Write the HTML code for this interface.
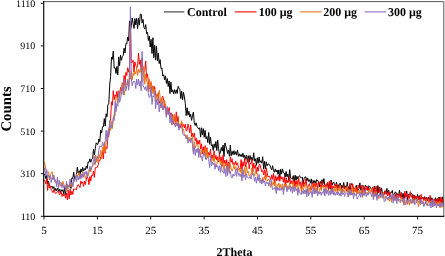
<!DOCTYPE html>
<html><head><meta charset="utf-8"><style>
html,body{margin:0;padding:0;background:#fff;}
svg{display:block;font-family:"Liberation Serif",serif;text-rendering:geometricPrecision;}
</style></head><body>
<svg width="445" height="256" viewBox="0 0 445 256">
<rect width="445" height="256" fill="#fff"/>
<filter id="nf" x="0" y="0" width="445" height="256" filterUnits="userSpaceOnUse"><feOffset dx="0" dy="0"/></filter>
<clipPath id="c"><rect x="44" y="2" width="400" height="214.3"/></clipPath>
<g clip-path="url(#c)">
<path d="M44.0 173.8 L44.9 174.8 L45.8 178.6 L46.7 175.3 L47.6 183.8 L48.5 181.1 L49.4 185.5 L50.3 186.8 L51.2 187.3 L52.1 186.2 L53.0 188.6 L53.9 186.7 L54.8 191.0 L55.7 188.4 L56.6 191.0 L57.5 188.2 L58.4 190.9 L59.3 189.3 L60.2 192.6 L61.1 189.6 L62.0 191.3 L62.9 189.6 L63.8 194.1 L64.7 187.1 L65.6 194.6 L66.5 183.4 L67.4 186.8 L68.3 185.5 L69.2 186.7 L70.1 183.6 L71.0 188.5 L71.9 177.8 L72.8 178.4 L73.7 172.2 L74.6 178.6 L75.5 177.2 L76.4 175.3 L77.3 167.2 L78.2 173.1 L79.1 170.7 L80.0 175.5 L80.9 168.9 L81.8 171.9 L82.7 167.4 L83.6 171.2 L84.5 168.6 L85.4 169.8 L86.3 165.9 L87.2 168.5 L88.1 161.9 L89.0 162.4 L89.9 158.8 L90.8 162.3 L91.7 159.2 L92.6 158.5 L93.5 149.3 L94.4 155.0 L95.3 148.5 L96.2 142.8 L97.1 144.2 L98.0 144.2 L98.9 139.1 L99.8 141.6 L100.7 130.1 L101.6 133.1 L102.5 126.7 L103.4 126.7 L104.3 118.6 L105.2 126.1 L106.1 113.8 L107.0 116.8 L107.9 104.8 L108.8 103.9 L109.7 85.2 L110.6 76.7 L111.5 57.1 L112.4 59.3 L113.3 51.1 L114.2 68.0 L115.1 67.6 L116.0 73.5 L116.9 66.5 L117.8 74.9 L118.7 56.9 L119.6 65.6 L120.5 55.0 L121.4 60.3 L122.3 56.6 L123.2 55.5 L124.1 48.1 L125.0 53.0 L125.9 43.5 L126.8 43.8 L127.7 37.1 L128.6 41.1 L129.5 20.9 L130.4 30.9 L131.3 25.9 L132.2 18.0 L133.1 23.4 L134.0 28.4 L134.9 18.6 L135.8 24.9 L136.7 18.3 L137.6 28.7 L138.5 18.3 L139.4 25.2 L140.3 14.2 L141.2 14.2 L142.1 23.1 L143.0 19.3 L143.9 27.2 L144.8 29.2 L145.7 24.6 L146.6 33.6 L147.5 32.3 L148.4 40.5 L149.3 36.0 L150.2 47.0 L151.1 39.4 L152.0 53.5 L152.9 37.7 L153.8 57.6 L154.7 45.2 L155.6 60.1 L156.5 46.1 L157.4 60.7 L158.3 53.0 L159.2 63.6 L160.1 59.6 L161.0 68.5 L161.9 68.0 L162.8 76.0 L163.7 74.7 L164.6 79.9 L165.5 75.8 L166.4 83.5 L167.3 78.6 L168.2 86.5 L169.1 80.9 L170.0 93.6 L170.9 82.2 L171.8 92.0 L172.7 89.8 L173.6 94.1 L174.5 89.7 L175.4 93.4 L176.3 89.8 L177.2 93.5 L178.1 86.4 L179.0 88.1 L179.9 89.6 L180.8 98.6 L181.7 91.1 L182.6 99.9 L183.5 92.4 L184.4 96.9 L185.3 103.5 L186.2 115.6 L187.1 107.8 L188.0 115.2 L188.9 111.3 L189.8 117.1 L190.7 114.4 L191.6 120.4 L192.5 115.7 L193.4 112.1 L194.3 122.8 L195.2 125.4 L196.1 122.8 L197.0 126.6 L197.9 127.9 L198.8 129.1 L199.7 127.7 L200.6 137.2 L201.5 127.8 L202.4 134.8 L203.3 128.6 L204.2 137.3 L205.1 130.3 L206.0 138.8 L206.9 136.6 L207.8 142.6 L208.7 132.5 L209.6 144.3 L210.5 137.1 L211.4 145.7 L212.3 144.7 L213.2 150.5 L214.1 143.9 L215.0 147.6 L215.9 141.5 L216.8 150.5 L217.7 140.2 L218.6 148.8 L219.5 154.2 L220.4 152.6 L221.3 147.5 L222.2 151.1 L223.1 145.1 L224.0 156.5 L224.9 142.9 L225.8 146.1 L226.7 149.1 L227.6 153.4 L228.5 150.0 L229.4 156.3 L230.3 145.0 L231.2 155.8 L232.1 151.3 L233.0 154.7 L233.9 150.7 L234.8 154.6 L235.7 151.6 L236.6 155.2 L237.5 149.9 L238.4 156.3 L239.3 153.8 L240.2 156.4 L241.1 154.4 L242.0 156.9 L242.9 153.2 L243.8 157.5 L244.7 155.4 L245.6 159.3 L246.5 155.1 L247.4 162.0 L248.3 155.7 L249.2 162.1 L250.1 155.5 L251.0 159.8 L251.9 157.3 L252.8 160.5 L253.7 152.8 L254.6 161.2 L255.5 158.8 L256.4 165.3 L257.3 157.7 L258.2 163.3 L259.1 157.1 L260.0 162.5 L260.9 160.7 L261.8 163.2 L262.7 156.7 L263.6 169.2 L264.5 161.1 L265.4 169.0 L266.3 161.8 L267.2 165.8 L268.1 163.9 L269.0 164.4 L269.9 165.2 L270.8 167.9 L271.7 170.0 L272.6 165.7 L273.5 170.3 L274.4 172.3 L275.3 168.9 L276.2 172.0 L277.1 170.0 L278.0 174.4 L278.9 169.9 L279.8 178.3 L280.7 169.3 L281.6 174.1 L282.5 168.9 L283.4 172.7 L284.3 173.0 L285.2 177.2 L286.1 171.5 L287.0 176.8 L287.9 173.9 L288.8 181.1 L289.7 169.6 L290.6 178.0 L291.5 178.4 L292.4 179.1 L293.3 175.6 L294.2 182.6 L295.1 175.2 L296.0 180.2 L296.9 176.3 L297.8 179.0 L298.7 176.7 L299.6 175.6 L300.5 177.4 L301.4 178.0 L302.3 177.1 L303.2 183.8 L304.1 178.7 L305.0 177.0 L305.9 176.8 L306.8 181.1 L307.7 177.9 L308.6 181.4 L309.5 179.7 L310.4 183.2 L311.3 178.9 L312.2 186.6 L313.1 180.3 L314.0 183.2 L314.9 180.6 L315.8 183.2 L316.7 179.6 L317.6 181.0 L318.5 181.2 L319.4 186.7 L320.3 181.5 L321.2 183.5 L322.1 179.7 L323.0 183.7 L323.9 178.6 L324.8 185.0 L325.7 185.7 L326.6 184.5 L327.5 182.7 L328.4 188.0 L329.3 183.0 L330.2 189.1 L331.1 180.0 L332.0 185.3 L332.9 182.6 L333.8 182.0 L334.7 186.1 L335.6 186.0 L336.5 182.1 L337.4 188.2 L338.3 184.7 L339.2 187.3 L340.1 183.1 L341.0 189.4 L341.9 185.3 L342.8 187.7 L343.7 182.5 L344.6 188.5 L345.5 185.8 L346.4 188.3 L347.3 182.2 L348.2 192.3 L349.1 186.2 L350.0 190.4 L350.9 185.5 L351.8 183.5 L352.7 185.9 L353.6 188.3 L354.5 189.3 L355.4 188.5 L356.3 185.3 L357.2 189.3 L358.1 190.3 L359.0 188.7 L359.9 182.9 L360.8 190.4 L361.7 186.8 L362.6 185.5 L363.5 187.1 L364.4 190.6 L365.3 185.2 L366.2 186.7 L367.1 187.0 L368.0 190.5 L368.9 185.7 L369.8 186.6 L370.7 188.1 L371.6 189.9 L372.5 192.7 L373.4 191.5 L374.3 186.1 L375.2 188.5 L376.1 187.9 L377.0 195.4 L377.9 185.6 L378.8 192.2 L379.7 187.1 L380.6 194.9 L381.5 187.9 L382.4 193.0 L383.3 194.6 L384.2 193.9 L385.1 190.7 L386.0 193.2 L386.9 188.4 L387.8 193.6 L388.7 190.2 L389.6 195.7 L390.5 192.5 L391.4 192.6 L392.3 190.5 L393.2 195.4 L394.1 196.0 L395.0 192.2 L395.9 192.1 L396.8 195.2 L397.7 193.7 L398.6 195.5 L399.5 190.2 L400.4 195.7 L401.3 194.2 L402.2 197.5 L403.1 193.3 L404.0 199.2 L404.9 194.1 L405.8 197.0 L406.7 191.0 L407.6 200.3 L408.5 194.6 L409.4 193.7 L410.3 195.3 L411.2 193.3 L412.1 193.9 L413.0 201.5 L413.9 194.8 L414.8 200.1 L415.7 196.2 L416.6 200.3 L417.5 194.5 L418.4 199.7 L419.3 195.6 L420.2 200.0 L421.1 198.5 L422.0 198.6 L422.9 197.2 L423.8 198.9 L424.7 196.6 L425.6 199.1 L426.5 197.5 L427.4 201.1 L428.3 197.0 L429.2 199.5 L430.1 197.7 L431.0 202.8 L431.9 197.7 L432.8 203.6 L433.7 200.0 L434.6 200.1 L435.5 197.7 L436.4 201.1 L437.3 198.9 L438.2 202.6 L439.1 197.0 L440.0 201.4 L440.9 198.4 L441.8 203.0 L442.7 196.8 L443.6 202.7" fill="none" stroke="#000000" stroke-width="1.0" stroke-linejoin="round"/>
<path d="M44.0 179.9 L44.9 180.6 L45.8 183.8 L46.7 178.4 L47.6 190.5 L48.5 182.8 L49.4 188.2 L50.3 185.8 L51.2 189.7 L52.1 191.0 L53.0 192.7 L53.9 189.6 L54.8 191.8 L55.7 193.6 L56.6 193.0 L57.5 191.3 L58.4 191.0 L59.3 194.6 L60.2 194.1 L61.1 191.3 L62.0 196.5 L62.9 193.9 L63.8 196.0 L64.7 194.3 L65.6 198.2 L66.5 193.3 L67.4 200.0 L68.3 190.2 L69.2 198.8 L70.1 189.2 L71.0 195.0 L71.9 191.2 L72.8 194.5 L73.7 188.8 L74.6 189.4 L75.5 188.8 L76.4 189.9 L77.3 185.9 L78.2 184.6 L79.1 186.1 L80.0 187.7 L80.9 180.9 L81.8 183.5 L82.7 182.0 L83.6 186.4 L84.5 181.2 L85.4 184.5 L86.3 179.0 L87.2 177.0 L88.1 178.5 L89.0 184.7 L89.9 176.5 L90.8 181.1 L91.7 175.2 L92.6 176.0 L93.5 171.0 L94.4 177.4 L95.3 167.7 L96.2 167.7 L97.1 167.6 L98.0 165.6 L98.9 160.5 L99.8 160.9 L100.7 157.0 L101.6 158.8 L102.5 150.7 L103.4 158.7 L104.3 144.0 L105.2 153.2 L106.1 147.1 L107.0 148.6 L107.9 137.3 L108.8 135.8 L109.7 123.0 L110.6 118.5 L111.5 101.8 L112.4 105.2 L113.3 90.6 L114.2 99.7 L115.1 94.8 L116.0 97.1 L116.9 91.2 L117.8 97.9 L118.7 90.8 L119.6 94.6 L120.5 87.5 L121.4 91.2 L122.3 82.8 L123.2 87.7 L124.1 75.5 L125.0 85.2 L125.9 72.3 L126.8 75.5 L127.7 67.7 L128.6 72.2 L129.5 67.7 L130.4 22.0 L131.3 63.0 L132.2 62.0 L133.1 60.3 L134.0 72.4 L134.9 61.9 L135.8 65.4 L136.7 68.0 L137.6 66.4 L138.5 53.0 L139.4 64.3 L140.3 60.0 L141.2 72.3 L142.1 58.0 L143.0 70.0 L143.9 71.8 L144.8 70.5 L145.7 61.0 L146.6 77.6 L147.5 73.9 L148.4 83.0 L149.3 89.0 L150.2 86.3 L151.1 82.6 L152.0 89.5 L152.9 85.8 L153.8 90.3 L154.7 86.6 L155.6 95.4 L156.5 96.1 L157.4 96.8 L158.3 92.8 L159.2 103.3 L160.1 101.0 L161.0 101.0 L161.9 97.7 L162.8 96.2 L163.7 100.1 L164.6 107.9 L165.5 104.6 L166.4 116.5 L167.3 108.0 L168.2 113.0 L169.1 107.6 L170.0 116.7 L170.9 112.7 L171.8 116.8 L172.7 114.4 L173.6 124.0 L174.5 114.9 L175.4 122.7 L176.3 111.9 L177.2 121.7 L178.1 116.4 L179.0 128.2 L179.9 124.8 L180.8 127.6 L181.7 122.4 L182.6 126.6 L183.5 124.6 L184.4 128.0 L185.3 124.2 L186.2 131.0 L187.1 130.3 L188.0 124.0 L188.9 127.2 L189.8 132.8 L190.7 124.9 L191.6 136.6 L192.5 133.3 L193.4 137.0 L194.3 133.0 L195.2 140.8 L196.1 138.0 L197.0 144.5 L197.9 140.3 L198.8 144.1 L199.7 140.2 L200.6 148.9 L201.5 143.8 L202.4 153.9 L203.3 146.8 L204.2 153.9 L205.1 145.6 L206.0 154.0 L206.9 147.7 L207.8 156.1 L208.7 152.4 L209.6 155.4 L210.5 149.2 L211.4 158.3 L212.3 155.1 L213.2 159.0 L214.1 150.8 L215.0 159.1 L215.9 155.3 L216.8 160.1 L217.7 156.8 L218.6 161.9 L219.5 153.7 L220.4 161.6 L221.3 156.9 L222.2 166.4 L223.1 155.1 L224.0 163.6 L224.9 160.0 L225.8 165.7 L226.7 159.6 L227.6 167.5 L228.5 161.9 L229.4 169.2 L230.3 156.8 L231.2 162.2 L232.1 158.8 L233.0 164.6 L233.9 162.5 L234.8 164.7 L235.7 161.1 L236.6 165.2 L237.5 162.8 L238.4 167.5 L239.3 168.3 L240.2 169.0 L241.1 159.6 L242.0 170.6 L242.9 161.8 L243.8 166.1 L244.7 158.1 L245.6 166.9 L246.5 162.7 L247.4 162.6 L248.3 158.6 L249.2 168.9 L250.1 163.1 L251.0 163.7 L251.9 159.3 L252.8 172.2 L253.7 163.0 L254.6 168.3 L255.5 164.9 L256.4 173.8 L257.3 167.1 L258.2 171.3 L259.1 164.8 L260.0 164.4 L260.9 168.6 L261.8 171.9 L262.7 170.5 L263.6 174.9 L264.5 169.8 L265.4 177.2 L266.3 167.8 L267.2 173.0 L268.1 177.0 L269.0 176.0 L269.9 177.6 L270.8 179.8 L271.7 174.9 L272.6 179.4 L273.5 173.4 L274.4 183.6 L275.3 175.6 L276.2 181.1 L277.1 176.7 L278.0 180.4 L278.9 175.2 L279.8 181.3 L280.7 176.1 L281.6 179.1 L282.5 177.2 L283.4 182.1 L284.3 176.5 L285.2 185.7 L286.1 177.9 L287.0 183.1 L287.9 180.2 L288.8 182.2 L289.7 176.6 L290.6 184.0 L291.5 180.7 L292.4 184.0 L293.3 179.8 L294.2 186.6 L295.1 180.7 L296.0 186.7 L296.9 180.4 L297.8 185.4 L298.7 177.6 L299.6 185.6 L300.5 182.0 L301.4 189.1 L302.3 180.5 L303.2 186.7 L304.1 182.4 L305.0 185.0 L305.9 178.7 L306.8 185.5 L307.7 187.9 L308.6 185.4 L309.5 183.7 L310.4 188.2 L311.3 190.2 L312.2 187.1 L313.1 182.6 L314.0 189.7 L314.9 183.3 L315.8 186.6 L316.7 182.7 L317.6 189.9 L318.5 181.4 L319.4 183.9 L320.3 184.6 L321.2 188.6 L322.1 181.3 L323.0 187.0 L323.9 185.0 L324.8 187.2 L325.7 184.7 L326.6 187.3 L327.5 182.5 L328.4 190.1 L329.3 181.2 L330.2 187.9 L331.1 181.3 L332.0 191.7 L332.9 185.9 L333.8 188.1 L334.7 184.1 L335.6 188.0 L336.5 184.0 L337.4 190.8 L338.3 185.6 L339.2 188.4 L340.1 185.6 L341.0 188.9 L341.9 193.0 L342.8 189.4 L343.7 185.7 L344.6 188.9 L345.5 187.2 L346.4 191.3 L347.3 187.4 L348.2 190.4 L349.1 187.5 L350.0 183.2 L350.9 187.6 L351.8 191.6 L352.7 183.9 L353.6 192.0 L354.5 187.8 L355.4 191.7 L356.3 187.5 L357.2 193.5 L358.1 185.2 L359.0 187.8 L359.9 188.1 L360.8 185.9 L361.7 185.5 L362.6 193.3 L363.5 185.7 L364.4 192.1 L365.3 188.4 L366.2 190.2 L367.1 186.2 L368.0 190.4 L368.9 187.9 L369.8 190.6 L370.7 191.3 L371.6 190.9 L372.5 186.9 L373.4 194.2 L374.3 188.0 L375.2 196.0 L376.1 186.0 L377.0 192.2 L377.9 190.7 L378.8 193.1 L379.7 187.4 L380.6 191.5 L381.5 193.4 L382.4 196.3 L383.3 192.2 L384.2 194.7 L385.1 190.8 L386.0 194.5 L386.9 192.7 L387.8 196.0 L388.7 191.5 L389.6 196.7 L390.5 192.9 L391.4 199.5 L392.3 195.8 L393.2 195.7 L394.1 194.0 L395.0 198.0 L395.9 193.7 L396.8 199.9 L397.7 194.4 L398.6 197.9 L399.5 193.9 L400.4 198.2 L401.3 192.2 L402.2 199.1 L403.1 197.9 L404.0 199.2 L404.9 191.1 L405.8 196.8 L406.7 193.5 L407.6 197.2 L408.5 195.4 L409.4 198.4 L410.3 191.6 L411.2 197.3 L412.1 195.8 L413.0 201.5 L413.9 195.3 L414.8 198.6 L415.7 195.8 L416.6 198.0 L417.5 196.6 L418.4 199.8 L419.3 196.8 L420.2 201.4 L421.1 194.3 L422.0 199.0 L422.9 197.7 L423.8 200.5 L424.7 197.7 L425.6 202.6 L426.5 197.0 L427.4 200.1 L428.3 200.4 L429.2 202.0 L430.1 195.3 L431.0 201.5 L431.9 199.5 L432.8 201.2 L433.7 199.5 L434.6 204.0 L435.5 199.6 L436.4 204.3 L437.3 198.2 L438.2 203.8 L439.1 198.6 L440.0 202.9 L440.9 196.8 L441.8 202.4 L442.7 199.1 L443.6 206.0" fill="none" stroke="#ff0000" stroke-width="1.0" stroke-linejoin="round"/>
<path d="M44.0 161.9 L44.9 163.9 L45.8 169.1 L46.7 171.4 L47.6 172.7 L48.5 171.8 L49.4 180.1 L50.3 174.4 L51.2 173.6 L52.1 171.6 L53.0 179.1 L53.9 177.8 L54.8 180.6 L55.7 182.4 L56.6 184.2 L57.5 180.3 L58.4 180.7 L59.3 181.9 L60.2 186.4 L61.1 183.4 L62.0 186.0 L62.9 181.3 L63.8 184.8 L64.7 185.2 L65.6 187.5 L66.5 184.9 L67.4 191.5 L68.3 184.8 L69.2 186.1 L70.1 181.7 L71.0 186.8 L71.9 182.6 L72.8 185.6 L73.7 180.4 L74.6 180.4 L75.5 178.4 L76.4 174.0 L77.3 175.7 L78.2 175.2 L79.1 172.4 L80.0 178.1 L80.9 174.3 L81.8 177.5 L82.7 172.1 L83.6 176.0 L84.5 173.5 L85.4 178.5 L86.3 175.8 L87.2 173.7 L88.1 175.8 L89.0 172.5 L89.9 167.7 L90.8 172.0 L91.7 167.0 L92.6 166.5 L93.5 162.9 L94.4 164.6 L95.3 155.0 L96.2 162.0 L97.1 156.0 L98.0 162.6 L98.9 154.3 L99.8 157.9 L100.7 150.4 L101.6 158.9 L102.5 147.1 L103.4 151.6 L104.3 142.3 L105.2 151.8 L106.1 140.3 L107.0 141.2 L107.9 134.8 L108.8 128.1 L109.7 127.0 L110.6 130.6 L111.5 121.4 L112.4 128.5 L113.3 118.9 L114.2 114.2 L115.1 115.7 L116.0 96.0 L116.9 97.8 L117.8 102.9 L118.7 91.8 L119.6 97.3 L120.5 90.8 L121.4 88.3 L122.3 86.8 L123.2 82.5 L124.1 95.3 L125.0 89.6 L125.9 83.6 L126.8 85.1 L127.7 79.1 L128.6 86.8 L129.5 70.1 L130.4 79.2 L131.3 70.4 L132.2 79.7 L133.1 73.2 L134.0 75.5 L134.9 71.5 L135.8 73.9 L136.7 67.4 L137.6 75.5 L138.5 69.5 L139.4 72.6 L140.3 68.4 L141.2 73.3 L142.1 81.8 L143.0 80.9 L143.9 66.1 L144.8 84.2 L145.7 74.2 L146.6 81.0 L147.5 82.8 L148.4 91.6 L149.3 78.7 L150.2 91.7 L151.1 81.3 L152.0 94.1 L152.9 86.6 L153.8 93.3 L154.7 89.8 L155.6 103.0 L156.5 93.8 L157.4 100.2 L158.3 96.2 L159.2 90.4 L160.1 96.6 L161.0 108.0 L161.9 97.8 L162.8 105.7 L163.7 109.6 L164.6 100.1 L165.5 105.5 L166.4 111.4 L167.3 109.3 L168.2 114.9 L169.1 110.7 L170.0 119.2 L170.9 113.9 L171.8 125.1 L172.7 116.5 L173.6 121.2 L174.5 114.3 L175.4 126.3 L176.3 118.8 L177.2 125.8 L178.1 121.6 L179.0 125.3 L179.9 123.6 L180.8 124.7 L181.7 120.7 L182.6 130.7 L183.5 128.9 L184.4 135.0 L185.3 135.2 L186.2 138.1 L187.1 134.8 L188.0 141.0 L188.9 137.2 L189.8 141.2 L190.7 137.8 L191.6 139.5 L192.5 136.4 L193.4 151.3 L194.3 141.7 L195.2 148.0 L196.1 145.8 L197.0 144.6 L197.9 144.5 L198.8 153.6 L199.7 149.2 L200.6 157.3 L201.5 150.8 L202.4 151.6 L203.3 150.4 L204.2 156.2 L205.1 148.1 L206.0 159.3 L206.9 149.5 L207.8 158.0 L208.7 156.1 L209.6 157.0 L210.5 156.0 L211.4 161.4 L212.3 158.4 L213.2 161.4 L214.1 155.0 L215.0 163.7 L215.9 165.5 L216.8 164.5 L217.7 159.1 L218.6 160.4 L219.5 159.1 L220.4 164.7 L221.3 160.3 L222.2 165.4 L223.1 162.4 L224.0 170.7 L224.9 164.2 L225.8 164.5 L226.7 164.8 L227.6 171.7 L228.5 163.7 L229.4 172.7 L230.3 164.6 L231.2 168.2 L232.1 171.3 L233.0 168.7 L233.9 165.1 L234.8 169.4 L235.7 166.5 L236.6 169.7 L237.5 167.9 L238.4 170.2 L239.3 168.4 L240.2 172.5 L241.1 168.9 L242.0 176.3 L242.9 171.5 L243.8 174.8 L244.7 167.3 L245.6 175.6 L246.5 165.7 L247.4 173.0 L248.3 171.3 L249.2 176.1 L250.1 174.8 L251.0 174.9 L251.9 167.8 L252.8 175.0 L253.7 173.4 L254.6 175.7 L255.5 171.1 L256.4 173.5 L257.3 173.4 L258.2 179.9 L259.1 178.7 L260.0 177.9 L260.9 179.2 L261.8 183.3 L262.7 177.2 L263.6 181.7 L264.5 176.4 L265.4 180.2 L266.3 174.0 L267.2 181.0 L268.1 179.5 L269.0 179.3 L269.9 182.3 L270.8 187.4 L271.7 180.7 L272.6 185.2 L273.5 182.5 L274.4 185.8 L275.3 180.9 L276.2 190.2 L277.1 184.4 L278.0 186.5 L278.9 183.0 L279.8 188.2 L280.7 184.4 L281.6 189.0 L282.5 183.9 L283.4 189.8 L284.3 184.1 L285.2 187.2 L286.1 183.8 L287.0 188.1 L287.9 185.5 L288.8 188.5 L289.7 182.6 L290.6 187.4 L291.5 187.6 L292.4 188.8 L293.3 181.5 L294.2 187.8 L295.1 186.2 L296.0 186.4 L296.9 183.8 L297.8 192.9 L298.7 186.7 L299.6 184.4 L300.5 185.7 L301.4 192.5 L302.3 186.7 L303.2 189.9 L304.1 187.5 L305.0 184.0 L305.9 186.9 L306.8 193.8 L307.7 186.1 L308.6 193.9 L309.5 187.9 L310.4 191.7 L311.3 188.0 L312.2 183.7 L313.1 187.3 L314.0 189.8 L314.9 185.7 L315.8 192.9 L316.7 188.0 L317.6 191.0 L318.5 194.1 L319.4 191.2 L320.3 186.8 L321.2 190.6 L322.1 186.6 L323.0 185.0 L323.9 188.6 L324.8 192.7 L325.7 185.8 L326.6 190.4 L327.5 192.2 L328.4 190.5 L329.3 191.3 L330.2 191.1 L331.1 189.0 L332.0 191.2 L332.9 189.0 L333.8 193.7 L334.7 185.6 L335.6 191.5 L336.5 187.0 L337.4 193.0 L338.3 188.4 L339.2 191.2 L340.1 185.3 L341.0 193.1 L341.9 188.7 L342.8 192.8 L343.7 189.7 L344.6 192.7 L345.5 187.7 L346.4 188.7 L347.3 185.8 L348.2 193.3 L349.1 189.3 L350.0 195.4 L350.9 189.4 L351.8 194.6 L352.7 187.0 L353.6 194.5 L354.5 190.7 L355.4 187.5 L356.3 192.5 L357.2 192.6 L358.1 191.0 L359.0 194.3 L359.9 189.8 L360.8 193.9 L361.7 190.6 L362.6 197.4 L363.5 191.5 L364.4 195.1 L365.3 190.6 L366.2 193.9 L367.1 192.1 L368.0 193.9 L368.9 189.9 L369.8 191.5 L370.7 192.7 L371.6 188.7 L372.5 191.5 L373.4 198.3 L374.3 192.5 L375.2 196.5 L376.1 191.5 L377.0 193.5 L377.9 194.5 L378.8 198.8 L379.7 194.0 L380.6 196.9 L381.5 194.3 L382.4 198.3 L383.3 192.2 L384.2 198.1 L385.1 198.1 L386.0 196.1 L386.9 198.5 L387.8 200.2 L388.7 198.9 L389.6 201.2 L390.5 197.0 L391.4 202.2 L392.3 196.7 L393.2 199.8 L394.1 194.5 L395.0 200.1 L395.9 197.5 L396.8 200.5 L397.7 198.4 L398.6 201.2 L399.5 201.1 L400.4 202.7 L401.3 197.0 L402.2 201.4 L403.1 202.0 L404.0 204.3 L404.9 200.3 L405.8 204.8 L406.7 200.1 L407.6 203.2 L408.5 197.9 L409.4 205.2 L410.3 199.3 L411.2 203.8 L412.1 199.0 L413.0 203.4 L413.9 200.1 L414.8 200.2 L415.7 198.5 L416.6 203.0 L417.5 197.9 L418.4 206.9 L419.3 200.7 L420.2 204.9 L421.1 203.4 L422.0 203.7 L422.9 200.8 L423.8 204.1 L424.7 204.1 L425.6 203.5 L426.5 200.3 L427.4 206.0 L428.3 202.2 L429.2 202.2 L430.1 202.3 L431.0 200.5 L431.9 200.5 L432.8 206.4 L433.7 202.5 L434.6 206.0 L435.5 201.8 L436.4 204.1 L437.3 202.2 L438.2 206.0 L439.1 201.5 L440.0 207.8 L440.9 202.2 L441.8 207.4 L442.7 206.7 L443.6 205.2" fill="none" stroke="#e8761a" stroke-width="1.0" stroke-linejoin="round"/>
<path d="M44.0 168.0 L44.9 169.1 L45.8 175.9 L46.7 169.5 L47.6 178.5 L48.5 175.2 L49.4 177.4 L50.3 175.5 L51.2 182.6 L52.1 177.3 L53.0 180.1 L53.9 174.9 L54.8 181.6 L55.7 179.7 L56.6 186.6 L57.5 177.1 L58.4 188.7 L59.3 180.5 L60.2 183.4 L61.1 182.4 L62.0 187.7 L62.9 184.4 L63.8 187.9 L64.7 186.1 L65.6 191.3 L66.5 181.4 L67.4 187.2 L68.3 188.4 L69.2 187.4 L70.1 179.0 L71.0 184.8 L71.9 182.2 L72.8 186.9 L73.7 178.3 L74.6 181.3 L75.5 176.2 L76.4 181.6 L77.3 174.8 L78.2 180.1 L79.1 176.3 L80.0 179.3 L80.9 173.8 L81.8 178.3 L82.7 173.4 L83.6 177.3 L84.5 172.0 L85.4 174.0 L86.3 171.1 L87.2 177.1 L88.1 171.7 L89.0 170.0 L89.9 166.3 L90.8 170.0 L91.7 166.7 L92.6 165.1 L93.5 159.8 L94.4 156.3 L95.3 164.4 L96.2 159.0 L97.1 157.0 L98.0 157.1 L98.9 149.4 L99.8 145.9 L100.7 146.7 L101.6 147.0 L102.5 142.4 L103.4 145.6 L104.3 144.4 L105.2 140.6 L106.1 130.3 L107.0 141.2 L107.9 130.7 L108.8 135.2 L109.7 120.5 L110.6 127.5 L111.5 128.1 L112.4 123.8 L113.3 117.8 L114.2 120.5 L115.1 101.4 L116.0 111.6 L116.9 103.3 L117.8 106.2 L118.7 91.4 L119.6 102.3 L120.5 99.3 L121.4 94.4 L122.3 87.4 L123.2 94.7 L124.1 78.9 L125.0 89.4 L125.9 90.9 L126.8 85.9 L127.7 80.5 L128.6 90.2 L129.5 82.2 L130.4 6.8 L131.3 77.6 L132.2 85.9 L133.1 81.7 L134.0 81.6 L134.9 81.5 L135.8 88.5 L136.7 79.0 L137.6 84.9 L138.5 79.0 L139.4 86.0 L140.3 80.9 L141.2 90.9 L142.1 51.5 L143.0 86.0 L143.9 86.8 L144.8 89.6 L145.7 86.6 L146.6 91.1 L147.5 84.9 L148.4 93.5 L149.3 97.6 L150.2 96.4 L151.1 87.0 L152.0 104.4 L152.9 95.8 L153.8 96.8 L154.7 90.5 L155.6 108.8 L156.5 99.7 L157.4 105.0 L158.3 97.9 L159.2 112.0 L160.1 103.7 L161.0 107.6 L161.9 101.7 L162.8 110.0 L163.7 106.3 L164.6 108.2 L165.5 107.1 L166.4 117.4 L167.3 106.5 L168.2 114.5 L169.1 110.9 L170.0 123.0 L170.9 113.5 L171.8 124.3 L172.7 119.4 L173.6 122.9 L174.5 123.8 L175.4 127.0 L176.3 122.8 L177.2 126.3 L178.1 123.2 L179.0 130.3 L179.9 124.7 L180.8 125.5 L181.7 127.0 L182.6 133.0 L183.5 134.7 L184.4 135.9 L185.3 134.9 L186.2 138.9 L187.1 136.9 L188.0 143.2 L188.9 140.6 L189.8 139.2 L190.7 142.9 L191.6 138.0 L192.5 145.0 L193.4 154.2 L194.3 146.4 L195.2 155.5 L196.1 148.8 L197.0 152.5 L197.9 148.3 L198.8 157.5 L199.7 149.5 L200.6 156.7 L201.5 156.5 L202.4 161.0 L203.3 153.4 L204.2 152.6 L205.1 155.1 L206.0 159.7 L206.9 158.1 L207.8 157.1 L208.7 159.4 L209.6 167.6 L210.5 156.1 L211.4 166.0 L212.3 161.8 L213.2 164.8 L214.1 163.1 L215.0 169.2 L215.9 164.3 L216.8 167.1 L217.7 165.5 L218.6 170.6 L219.5 165.8 L220.4 172.5 L221.3 164.7 L222.2 171.5 L223.1 171.2 L224.0 173.5 L224.9 168.4 L225.8 176.6 L226.7 166.0 L227.6 175.7 L228.5 166.0 L229.4 173.4 L230.3 171.2 L231.2 177.2 L232.1 177.9 L233.0 174.1 L233.9 176.2 L234.8 175.1 L235.7 169.3 L236.6 176.5 L237.5 168.3 L238.4 175.3 L239.3 173.5 L240.2 176.7 L241.1 173.8 L242.0 181.0 L242.9 169.5 L243.8 177.3 L244.7 174.8 L245.6 179.9 L246.5 173.9 L247.4 177.5 L248.3 177.8 L249.2 178.1 L250.1 176.4 L251.0 179.2 L251.9 173.5 L252.8 174.8 L253.7 174.8 L254.6 181.3 L255.5 177.2 L256.4 183.3 L257.3 177.3 L258.2 180.7 L259.1 174.4 L260.0 183.0 L260.9 179.7 L261.8 184.2 L262.7 179.0 L263.6 182.5 L264.5 180.9 L265.4 185.9 L266.3 181.6 L267.2 183.8 L268.1 182.3 L269.0 186.2 L269.9 181.3 L270.8 179.3 L271.7 184.4 L272.6 189.8 L273.5 188.5 L274.4 189.1 L275.3 186.9 L276.2 193.5 L277.1 186.9 L278.0 190.3 L278.9 187.6 L279.8 190.6 L280.7 188.6 L281.6 190.3 L282.5 186.8 L283.4 194.5 L284.3 188.3 L285.2 186.1 L286.1 185.7 L287.0 191.8 L287.9 187.8 L288.8 189.5 L289.7 186.0 L290.6 191.3 L291.5 186.8 L292.4 193.2 L293.3 186.3 L294.2 191.8 L295.1 186.7 L296.0 190.7 L296.9 188.7 L297.8 195.3 L298.7 188.7 L299.6 191.7 L300.5 194.2 L301.4 194.5 L302.3 190.6 L303.2 193.9 L304.1 189.8 L305.0 193.8 L305.9 189.7 L306.8 196.9 L307.7 187.9 L308.6 195.8 L309.5 192.9 L310.4 193.0 L311.3 191.4 L312.2 197.3 L313.1 187.5 L314.0 194.1 L314.9 189.6 L315.8 193.6 L316.7 189.9 L317.6 196.1 L318.5 191.6 L319.4 193.9 L320.3 191.8 L321.2 195.4 L322.1 191.9 L323.0 193.6 L323.9 188.6 L324.8 196.0 L325.7 188.6 L326.6 193.8 L327.5 190.2 L328.4 195.3 L329.3 191.2 L330.2 195.2 L331.1 189.8 L332.0 194.1 L332.9 189.0 L333.8 195.2 L334.7 192.6 L335.6 195.3 L336.5 191.9 L337.4 194.9 L338.3 191.8 L339.2 195.6 L340.1 192.9 L341.0 196.3 L341.9 189.8 L342.8 194.6 L343.7 193.0 L344.6 196.4 L345.5 192.7 L346.4 193.1 L347.3 193.2 L348.2 197.1 L349.1 190.5 L350.0 195.0 L350.9 190.8 L351.8 194.9 L352.7 193.0 L353.6 198.6 L354.5 193.2 L355.4 195.5 L356.3 193.4 L357.2 199.1 L358.1 197.1 L359.0 196.2 L359.9 192.7 L360.8 197.4 L361.7 191.3 L362.6 196.2 L363.5 193.5 L364.4 195.5 L365.3 189.5 L366.2 196.5 L367.1 193.7 L368.0 195.3 L368.9 192.6 L369.8 192.8 L370.7 193.1 L371.6 196.7 L372.5 191.2 L373.4 199.9 L374.3 194.3 L375.2 196.2 L376.1 193.0 L377.0 200.4 L377.9 194.9 L378.8 196.7 L379.7 193.4 L380.6 197.4 L381.5 191.5 L382.4 197.3 L383.3 194.4 L384.2 201.6 L385.1 201.0 L386.0 198.0 L386.9 196.6 L387.8 199.5 L388.7 196.9 L389.6 198.7 L390.5 194.2 L391.4 199.0 L392.3 194.7 L393.2 203.2 L394.1 194.0 L395.0 201.1 L395.9 198.3 L396.8 203.8 L397.7 195.2 L398.6 200.9 L399.5 199.0 L400.4 200.8 L401.3 201.0 L402.2 201.1 L403.1 198.5 L404.0 205.3 L404.9 198.0 L405.8 197.1 L406.7 199.7 L407.6 204.4 L408.5 199.7 L409.4 200.8 L410.3 199.3 L411.2 202.7 L412.1 201.3 L413.0 203.0 L413.9 198.3 L414.8 204.8 L415.7 204.0 L416.6 198.8 L417.5 200.3 L418.4 201.4 L419.3 202.2 L420.2 203.7 L421.1 199.3 L422.0 203.9 L422.9 201.8 L423.8 206.6 L424.7 204.2 L425.6 201.1 L426.5 205.1 L427.4 204.4 L428.3 205.1 L429.2 205.9 L430.1 202.6 L431.0 208.0 L431.9 200.1 L432.8 207.1 L433.7 199.8 L434.6 206.0 L435.5 203.1 L436.4 208.0 L437.3 203.8 L438.2 205.6 L439.1 203.9 L440.0 207.2 L440.9 202.5 L441.8 206.2 L442.7 202.9 L443.6 206.8" fill="none" stroke="#8a70c0" stroke-width="1.0" stroke-linejoin="round"/>
</g>
<path d="M43.7 1.6 H443.8 V216.3" fill="none" stroke="#595959" stroke-width="1"/>
<path d="M43.7 1.1 V216.3 H444.3" fill="none" stroke="#111" stroke-width="1.2"/>
<g stroke="#111" stroke-width="1"><line x1="44.0" y1="216.3" x2="44.0" y2="219.5"/><line x1="97.4" y1="216.3" x2="97.4" y2="219.5"/><line x1="150.7" y1="216.3" x2="150.7" y2="219.5"/><line x1="204.1" y1="216.3" x2="204.1" y2="219.5"/><line x1="257.5" y1="216.3" x2="257.5" y2="219.5"/><line x1="310.8" y1="216.3" x2="310.8" y2="219.5"/><line x1="364.2" y1="216.3" x2="364.2" y2="219.5"/><line x1="417.6" y1="216.3" x2="417.6" y2="219.5"/><line x1="40.8" y1="3.3" x2="43.7" y2="3.3"/><line x1="40.8" y1="45.9" x2="43.7" y2="45.9"/><line x1="40.8" y1="88.5" x2="43.7" y2="88.5"/><line x1="40.8" y1="131.1" x2="43.7" y2="131.1"/><line x1="40.8" y1="173.7" x2="43.7" y2="173.7"/><line x1="40.8" y1="216.3" x2="43.7" y2="216.3"/></g>
<g fill="#000" filter="url(#nf)"><text x="44.0" y="234" text-anchor="middle" font-size="11">5</text><text x="97.4" y="234" text-anchor="middle" font-size="11">15</text><text x="150.7" y="234" text-anchor="middle" font-size="11">25</text><text x="204.1" y="234" text-anchor="middle" font-size="11">35</text><text x="257.5" y="234" text-anchor="middle" font-size="11">45</text><text x="310.8" y="234" text-anchor="middle" font-size="11">55</text><text x="364.2" y="234" text-anchor="middle" font-size="11">65</text><text x="417.6" y="234" text-anchor="middle" font-size="11">75</text><text x="35.3" y="6.7" text-anchor="end" font-size="10">1110</text><text x="35.3" y="49.3" text-anchor="end" font-size="10">910</text><text x="35.3" y="91.9" text-anchor="end" font-size="10">710</text><text x="35.3" y="134.5" text-anchor="end" font-size="10">510</text><text x="35.3" y="177.1" text-anchor="end" font-size="10">310</text><text x="35.3" y="219.7" text-anchor="end" font-size="10">110</text><line x1="164" y1="11.9" x2="184.3" y2="11.9" stroke="#3a3a3a" stroke-width="1.1"/><text x="187.0" y="16" font-size="12" font-weight="bold">Control</text><line x1="234.9" y1="11.9" x2="256.5" y2="11.9" stroke="#ff0000" stroke-width="1.1"/><text x="258.7" y="16" font-size="12" font-weight="bold">100 μg</text><line x1="299.9" y1="11.9" x2="321.5" y2="11.9" stroke="#e8761a" stroke-width="1.1"/><text x="323.3" y="16" font-size="12" font-weight="bold">200 μg</text><line x1="364.6" y1="11.9" x2="386.2" y2="11.9" stroke="#8a70c0" stroke-width="1.1"/><text x="387.9" y="16" font-size="12" font-weight="bold">300 μg</text>
<text x="234.5" y="255.5" text-anchor="middle" font-size="12" font-weight="bold">2Theta</text>
<text transform="translate(11 109) rotate(-90)" text-anchor="middle" font-size="14.8" font-weight="bold">Counts</text>
</g>
</svg>
</body></html>
